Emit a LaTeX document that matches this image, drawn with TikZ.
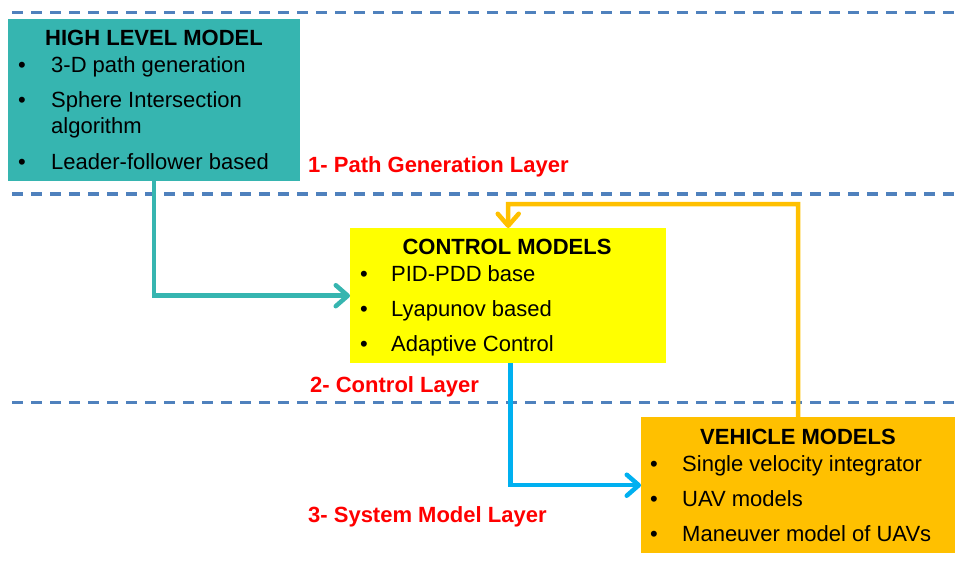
\documentclass[tikz,border=0pt]{standalone}
\usepackage{fontspec}
\setmainfont{Liberation Sans}
\usetikzlibrary{arrows.meta}
\definecolor{tealc}{RGB}{54,181,176}
\definecolor{yellowc}{RGB}{255,255,0}
\definecolor{orangec}{RGB}{255,192,0}
\definecolor{bluec}{RGB}{0,176,240}
\definecolor{dashc}{RGB}{79,129,189}
\definecolor{redc}{RGB}{255,0,0}
\tikzset{
  boxc/.style={rectangle, draw=none, inner sep=0pt, anchor=north west},
  txt/.style={inner sep=0pt, anchor=base west, font=\fontsize{22}{24}\selectfont},
  bul/.style={inner sep=0pt, anchor=base, font=\fontsize{22}{24}\selectfont},
  ttl/.style={inner sep=0pt, anchor=base, font=\fontsize{22}{24}\selectfont\bfseries},
  lbl/.style={inner sep=0pt, anchor=base west, text=redc, font=\fontsize{22}{24}\selectfont\bfseries},
  sep/.style={draw=dashc, line width=3.2pt, dash pattern=on 11pt off 8pt},
  conn/.style={line width=4.5pt, -{Straight Barb[length=12pt,width=21pt,round]}},
}
\begin{document}
\begin{tikzpicture}[x=1pt,y=-1pt]
\useasboundingbox (0,0) rectangle (955,567);
% layer separators
\coordinate (s1a) at (12,12.5);   \coordinate (s1b) at (955,12.5);
\coordinate (s2a) at (12,194);    \coordinate (s2b) at (955,194);
\coordinate (s3a) at (12,402.5);  \coordinate (s3b) at (955,402.5);
\draw[sep] (s1a) -- (s1b);
\draw[sep] (s2a) -- (s2b);
\draw[sep] (s3a) -- (s3b);
% boxes
\node[boxc, fill=tealc, minimum width=292pt, minimum height=162pt] (hl) at (8,19) {};
\node[boxc, fill=yellowc, minimum width=316pt, minimum height=135pt] (cm) at (350,228) {};
\node[boxc, fill=orangec, minimum width=314pt, minimum height=136pt] (vm) at (641,417) {};
% high level model text
\node[ttl] (hlt) at (154,46) {HIGH LEVEL MODEL};
\node[bul] (hlb1) at (22,73) {•};
\node[txt] (hl1) at (51,73) {3-D path generation};
\node[bul] (hlb2) at (22,108) {•};
\node[txt] (hl2) at (51,108) {Sphere Intersection};
\node[txt] (hl2b) at (51,134) {algorithm};
\node[bul] (hlb3) at (22,169) {•};
\node[txt] (hl3) at (51,169) {Leader-follower based};
% control models text
\node[ttl] (cmt) at (507,254) {CONTROL MODELS};
\node[bul] (cmb1) at (364,281) {•};
\node[txt] (cm1) at (391,281) {PID-PDD base};
\node[bul] (cmb2) at (364,316) {•};
\node[txt] (cm2) at (391,316) {Lyapunov based};
\node[bul] (cmb3) at (364,351) {•};
\node[txt] (cm3) at (391,351) {Adaptive Control};
% vehicle models text
\node[ttl] (vmt) at (798,444) {VEHICLE MODELS};
\node[bul] (vmb1) at (654,471) {•};
\node[txt] (vm1) at (682,471) {Single velocity integrator};
\node[bul] (vmb2) at (654,506) {•};
\node[txt] (vm2) at (682,506) {UAV models};
\node[bul] (vmb3) at (654,541) {•};
\node[txt] (vm3) at (682,541) {Maneuver model of UAVs};
% layer labels
\node[lbl] (l1) at (308,172) {1- Path Generation Layer};
\node[lbl] (l2) at (310,392) {2- Control Layer};
\node[lbl] (l3) at (308,522) {3- System Model Layer};
% connectors
\coordinate (fb) at (798,204);
\coordinate (cs) at (510.5,363);
\draw[conn, draw=tealc] (hl.south) |- (cm.west);
\draw[conn, draw=bluec] (cs) |- (vm.west);
\draw[conn, draw=orangec] (vm.north) -- (fb) -| (cm.north);
\end{tikzpicture}
\end{document}
